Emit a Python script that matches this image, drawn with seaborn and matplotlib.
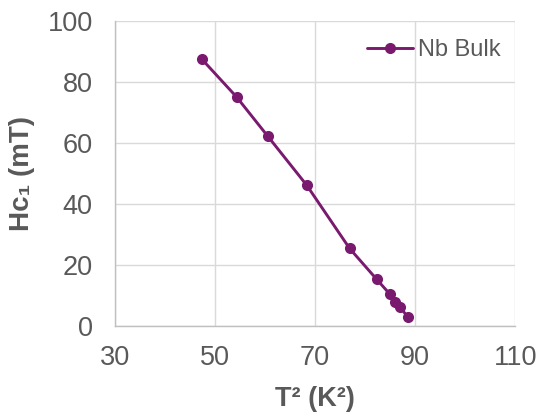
import matplotlib
matplotlib.use("Agg")
import matplotlib.pyplot as plt
import seaborn as sns
import pandas as pd

T2 = [47.3, 54.3, 60.5, 68.3, 76.9, 82.3, 84.9, 85.9, 86.9, 88.5]
Hc1 = [87.6, 75.1, 62.3, 46.2, 25.4, 15.3, 10.5, 7.9, 6.3, 3.0]
series_name = "Nb Bulk"
xticks = [30, 50, 70, 90, 110]
yticks = [0, 20, 40, 60, 80, 100]

sns.set_style("white")
plt.rcParams['font.family'] = ['Liberation Sans', 'DejaVu Sans']

df = pd.DataFrame({"T2": T2, "Hc1": Hc1, "series": series_name})

fig = plt.figure(figsize=(5.4, 4.13), dpi=100)
ax = fig.add_axes([0.213, 0.211, 0.741, 0.738])
color = "#791A6F"
sns.lineplot(data=df, x="T2", y="Hc1", hue="series", palette=[color], marker="o",
             markersize=8, markeredgewidth=0, linewidth=2.1, sort=False, ax=ax)

ax.set_xlim(30, 110)
ax.set_ylim(0, 100)
ax.set_xticks(xticks)
ax.set_yticks(yticks)
ax.grid(True, color="#d9d9d9", linewidth=1)
ax.tick_params(axis="both", length=0, labelsize=19.5, labelcolor="#595959")
ax.tick_params(axis="y", pad=16)
ax.tick_params(axis="x", pad=14)
for s in ["top", "right"]:
    ax.spines[s].set_visible(False)
for s in ["left", "bottom"]:
    ax.spines[s].set_color("#bfbfbf")
    ax.spines[s].set_linewidth(1)

ax.set_xlabel("T² (K²)", fontsize=19.5, fontweight="bold", color="#595959")
ax.set_ylabel("Hc₁ (mT)", fontsize=20, fontweight="bold", color="#595959")
ax.xaxis.set_label_coords(0.5, -0.197)
ax.yaxis.set_label_coords(-0.2, 0.5)

leg = ax.legend(loc="center right", frameon=False, fontsize=17, handlelength=1.95,
                handletextpad=0.2, bbox_to_anchor=(0.9625, 0.905), borderaxespad=0,
                borderpad=0)
for t in leg.get_texts():
    t.set_color("#595959")

fig.savefig("out.png", dpi=100)
